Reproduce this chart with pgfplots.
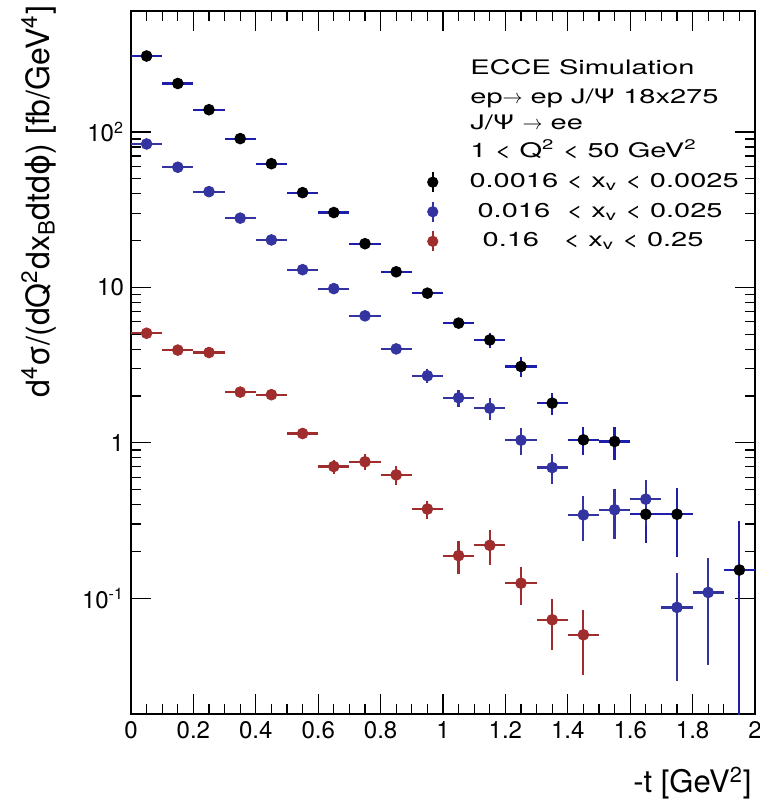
\documentclass[border=0pt]{standalone}
\usepackage{pgfplots}
\pgfplotsset{compat=1.18}
\usepackage{fontspec}
\setmainfont{TeX Gyre Heros}
\newfontfamily\legfont[FakeStretch=1.45]{TeX Gyre Heros}
\newfontfamily\dejavu{DejaVu Sans}

\definecolor{barblk}{RGB}{30,30,170}
\definecolor{rblue}{RGB}{52,52,160}
\definecolor{rred}{RGB}{160,45,45}

% black: 0.0016 < x_v < 0.0025
\pgfplotstableread{
x y ex eyp eym
0.05 308 0.05 5 5
0.15 205 0.05 4 4
0.25 139 0.05 3 3
0.35 90.6 0.05 2 2
0.45 62.5 0.05 1.5 1.5
0.55 40.7 0.05 1 1
0.65 30.3 0.05 0.9 0.9
0.75 19.1 0.05 0.7 0.7
0.85 12.6 0.05 0.5 0.5
0.95 9.18 0.05 0.4 0.4
1.05 5.89 0.05 0.45 0.45
1.15 4.59 0.05 0.5 0.5
1.25 3.10 0.05 0.45 0.45
1.35 1.80 0.05 0.3 0.3
1.45 1.045 0.05 0.215 0.215
1.55 1.02 0.05 0.25 0.25
1.65 0.347 0.05 0.12 0.12
1.75 0.347 0.05 0.164 0.164
1.95 0.152 0.05 0.163 0.14
}\blackdata

% blue: 0.016 < x_v < 0.025
\pgfplotstableread{
x y ex ey
0.05 83.7 0.05 1.5
0.15 59.3 0.05 1.2
0.25 41.3 0.05 1.0
0.35 27.9 0.05 0.8
0.45 20.2 0.05 0.6
0.55 13.0 0.05 0.45
0.65 9.82 0.05 0.4
0.75 6.56 0.05 0.3
0.85 4.02 0.05 0.3
0.95 2.70 0.05 0.28
1.05 1.95 0.05 0.24
1.15 1.67 0.05 0.26
1.25 1.04 0.05 0.2
1.35 0.693 0.05 0.15
1.45 0.344 0.05 0.11
1.55 0.371 0.05 0.13
1.65 0.434 0.05 0.14
1.75 0.0873 0.05 0.058
1.85 0.109 0.05 0.072
}\bluedata

% red: 0.16 < x_v < 0.25
\pgfplotstableread{
x y ex ey
0.05 5.07 0.05 0.1
0.15 3.95 0.05 0.1
0.25 3.81 0.05 0.1
0.35 2.12 0.05 0.07
0.45 2.04 0.05 0.07
0.55 1.148 0.05 0.07
0.65 0.704 0.05 0.075
0.75 0.755 0.05 0.09
0.85 0.622 0.05 0.085
0.95 0.375 0.05 0.05
1.05 0.188 0.05 0.045
1.15 0.219 0.05 0.055
1.25 0.125 0.05 0.035
1.35 0.0727 0.05 0.026
1.45 0.0582 0.05 0.026
}\reddata

\begin{document}
\begin{tikzpicture}
\begin{axis}[
    at={(0,0)}, anchor=south west,
    scale only axis, width=312pt, height=351.5pt,
    xmin=0, xmax=2,
    ymode=log, ymin=0.018, ymax=600,
    xtick={0,0.2,0.4,0.6,0.8,1,1.2,1.4,1.6,1.8,2},
    minor x tick num=3,
    ytick={0.1,1,10,100},
    yticklabels={10\textsuperscript{-1},1,10,10\textsuperscript{2}},
    tick align=inside,
    major tick length=10pt, minor tick length=5pt,
    every tick/.style={black, line width=0.6pt},
    axis line style={line width=0.7pt},
    tick label style={font=\fontsize{12}{12}\selectfont},
    /pgf/number format/assume math mode=true,
    xlabel={-t [GeV\textsuperscript{2}]},
    xlabel style={at={(axis description cs:0.995,-0.075)}, anchor=north east,
        inner sep=0pt, font=\fontsize{15.5}{15.5}\selectfont},
    ylabel={d\textsuperscript{4}σ/(dQ\textsuperscript{2}dx\textsubscript{B}dtd{\dejavu ϕ}) [fb/GeV\textsuperscript{4}]},
    ylabel style={at={(axis description cs:-0.119,1.008)}, anchor=south east,
        inner sep=0pt, font=\fontsize{16}{16}\selectfont},
    legend image code/.code={
        \draw[#1, line width=1pt] (0pt,-5pt) -- (0pt,5pt);
        \fill[#1] (0pt,0pt) circle (2.6pt);
    },
    legend style={at={(axis description cs:0.474,0.775)}, anchor=north west,
        draw=none, fill=none, inner sep=0pt, row sep=2.2pt,
        font=\legfont\fontsize{10}{10}\selectfont,
        nodes={inner sep=2pt}},
    legend cell align=left,
]
\addplot[color=black, mark=*, mark size=2.7pt, only marks, mark options={fill=black, draw=black},
    error bars/.cd, x dir=both, x explicit, y dir=both, y explicit,
    error mark=none, error bar style={line width=1.1pt, color=barblk}]
    table[x=x, y=y, x error=ex, y error plus=eyp, y error minus=eym] {\blackdata};
\addplot[color=rblue, mark=*, mark size=2.7pt, only marks, mark options={fill=rblue, draw=rblue},
    error bars/.cd, x dir=both, x explicit, y dir=both, y explicit,
    error mark=none, error bar style={line width=1.1pt, color=rblue}]
    table[x=x, y=y, x error=ex, y error=ey] {\bluedata};
\addplot[color=rred, mark=*, mark size=2.7pt, only marks, mark options={fill=rred, draw=rred},
    error bars/.cd, x dir=both, x explicit, y dir=both, y explicit,
    error mark=none, error bar style={line width=1.1pt, color=rred}]
    table[x=x, y=y, x error=ex, y error=ey] {\reddata};
\legend{~~~\hspace{1.5pt}0.0016 < x\textsubscript{v} < 0.0025,
        ~~~~\hspace{1.5pt}0.016~~< x\textsubscript{v} < 0.025,
        ~~~~~0.16~~~< x\textsubscript{v} < 0.25}

\node[anchor=base west, inner sep=0pt, font=\legfont\fontsize{10}{10}\selectfont]
    at (axis description cs:0.5433,0.909) {ECCE Simulation};
\node[anchor=base west, inner sep=0pt, font=\legfont\fontsize{10}{10}\selectfont]
    at (axis description cs:0.5433,0.869) {ep$\rightarrow$ ep J/Ψ 18x275};
\node[anchor=base west, inner sep=0pt, font=\legfont\fontsize{10}{10}\selectfont]
    at (axis description cs:0.5433,0.832) {J/Ψ $\rightarrow$ ee};
\node[anchor=base west, inner sep=0pt, font=\legfont\fontsize{10}{10}\selectfont]
    at (axis description cs:0.5433,0.792) {1 < Q\textsuperscript{2} < 50 GeV\textsuperscript{2}};
\end{axis}
\pgfresetboundingbox
\path (-65.5pt,-48.5pt) rectangle (314.5pt,357pt);
\end{tikzpicture}
\end{document}
